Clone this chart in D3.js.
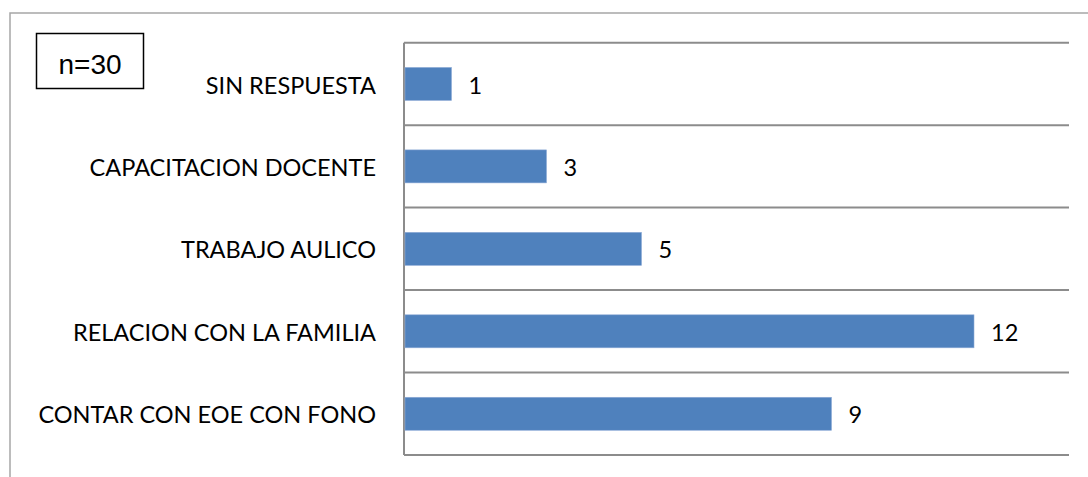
<!DOCTYPE html>
<html>
<head>
<meta charset="utf-8">
<script src="https://cdn.jsdelivr.net/npm/d3@7"></script>
<style>
  html, body { margin: 0; padding: 0; background: #fff; overflow: hidden; }
</style>
</head>
<body>
<div id="chart"></div>
<script>
const categories = ["SIN RESPUESTA", "CAPACITACION DOCENTE", "TRABAJO AULICO", "RELACION CON LA FAMILIA", "CONTAR CON EOE CON FONO"];
const values = [1, 3, 5, 12, 9];
const xDomain = [0, 14];
const sampleLabel = "n=30";

const W = 1088, H = 477;
const margin = { top: 42.7, right: 19, bottom: 22, left: 404 };
const width = W - margin.left - margin.right;
const height = H - margin.top - margin.bottom;

const svg = d3.select("#chart").append("svg")
    .attr("width", W)
    .attr("height", H);

// Outer chart border
svg.append("rect")
    .attr("x", 10).attr("y", 13)
    .attr("width", 1200).attr("height", 600)
    .attr("fill", "none")
    .attr("stroke", "#a6a6a6")
    .attr("stroke-width", 1.5);

const g = svg.append("g")
    .attr("transform", `translate(${margin.left},${margin.top})`);

// Scales
const x = d3.scaleLinear().domain(xDomain).range([0, width]);
const y = d3.scaleBand()
    .domain(categories)
    .range([0, height])
    .paddingInner(0.6)
    .paddingOuter(0.3);

// Category gridlines (band boundaries)
const bounds = d3.range(categories.length + 1).map(i => i * y.step());
g.selectAll(".grid")
    .data(bounds)
    .enter().append("line")
    .attr("x1", 0).attr("x2", width)
    .attr("y1", d => d).attr("y2", d => d)
    .attr("stroke", "#8c8c8c")
    .attr("stroke-width", 2);

// Left axis
g.append("line")
    .attr("x1", 0).attr("x2", 0)
    .attr("y1", 0).attr("y2", height)
    .attr("stroke", "#8c8c8c")
    .attr("stroke-width", 2);

// Category labels
const yAxis = g.append("g")
    .call(d3.axisLeft(y).tickSize(0).tickPadding(28));
yAxis.select(".domain").remove();
yAxis.selectAll("text")
    .attr("fill", "#000")
    .attr("dy", "0.41em")
    .style("font-family", "Lato, 'Open Sans', sans-serif")
    .style("font-size", "23.5px");

// Bars
g.selectAll(".bar")
    .data(values)
    .enter().append("rect")
    .attr("x", 1)
    .attr("y", (d, i) => y(categories[i]))
    .attr("width", d => x(d) - 1)
    .attr("height", y.bandwidth())
    .attr("fill", "#4f81bd")
    .attr("stroke", "#8eaad6")
    .attr("stroke-width", 0.6);

// Value labels
g.selectAll(".val")
    .data(values)
    .enter().append("text")
    .attr("x", d => x(d) + 17)
    .attr("y", (d, i) => y(categories[i]) + y.bandwidth() / 2)
    .attr("dy", "0.41em")
    .attr("fill", "#000")
    .style("font-family", "Lato, 'Open Sans', sans-serif")
    .style("font-size", "23.5px")
    .text(d => d);

// n=30 box
svg.append("rect")
    .attr("x", 36.5).attr("y", 33.5)
    .attr("width", 107).attr("height", 55)
    .attr("fill", "#fff")
    .attr("stroke", "#000")
    .attr("stroke-width", 1.5);
svg.append("text")
    .attr("x", 90).attr("y", 74)
    .attr("text-anchor", "middle")
    .attr("fill", "#000")
    .style("font-family", "'Liberation Sans', Arial, sans-serif")
    .style("font-size", "28px")
    .text(sampleLabel);
</script>
</body>
</html>
